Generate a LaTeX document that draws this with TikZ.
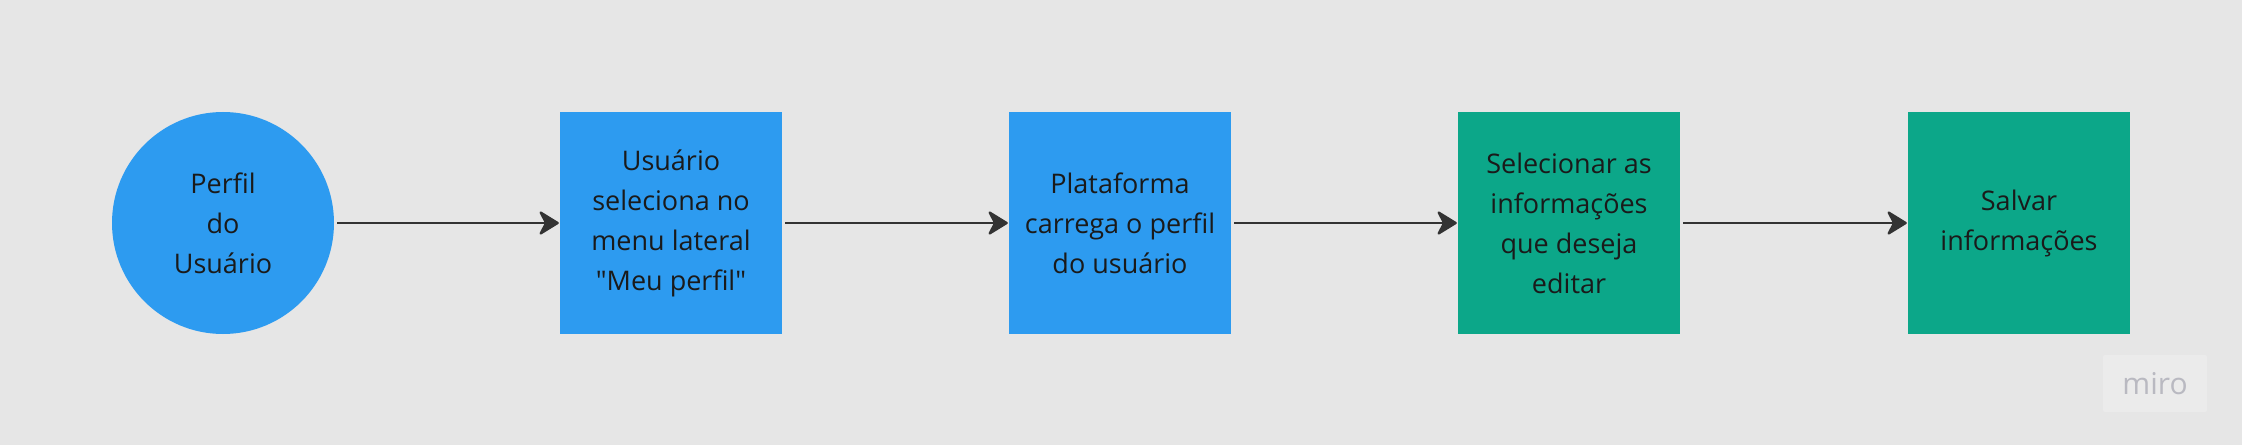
\documentclass[tikz,border=0pt]{standalone}
\usepackage{fontspec}
\setmainfont{Open Sans}[Ligatures=TeXOff]
\usetikzlibrary{arrows.meta}
\definecolor{bgc}{HTML}{E6E6E6}
\definecolor{bluec}{HTML}{2D9BF0}
\definecolor{greenc}{HTML}{0CA789}
\definecolor{txtc}{HTML}{1A1A1A}
\definecolor{arrc}{HTML}{333333}
\definecolor{logobg}{HTML}{EBEBEB}
\definecolor{logotxt}{HTML}{B9B9C1}
\tikzset{
  basetext/.style={text=txtc, align=center, font=\fontsize{27}{40}\selectfont, inner sep=0pt},
  startnode/.style={basetext, circle, fill=bluec, minimum size=222pt},
  bluebox/.style={basetext, rectangle, fill=bluec, minimum width=222pt, minimum height=222pt},
  greenbox/.style={basetext, rectangle, fill=greenc, minimum width=222pt, minimum height=222pt},
  flow/.style={draw=arrc, line width=2.3pt, -{Stealth[length=22pt, width=27pt, inset=7pt, round]}, shorten <=3pt, shorten >=1pt},
}
\begin{document}
\begin{tikzpicture}[x=1pt,y=1pt]
\useasboundingbox (0,0) rectangle (2242,445);
\fill[bgc] (0,0) rectangle (2242,445);
\node[startnode] (n0) at (223,222) {Perfil\\do\\Usuário};
\node[bluebox] (n1) at (671,222) {Usuário\\seleciona no\\menu lateral\\"Meu perfil"};
\node[bluebox] (n2) at (1120,222) {Plataforma\\carrega o perfil\\do usuário};
\node[greenbox] (n3) at (1569,222) {Selecionar as\\informações\\que deseja\\editar};
\node[greenbox] (n4) at (2019,222) {Salvar\\informações};
\draw[flow] (n0) -- (n1);
\draw[flow] (n1) -- (n2);
\draw[flow] (n2) -- (n3);
\draw[flow] (n3) -- (n4);
\node[fill=logobg, minimum width=104pt, minimum height=57pt, inner sep=0pt, rounded corners=2pt] (logo) at (2155,61.5) {};
\node[text=logotxt, font=\fontsize{30}{30}\selectfont, inner sep=0pt] (logotext) at (logo.center) {miro};
\end{tikzpicture}
\end{document}
